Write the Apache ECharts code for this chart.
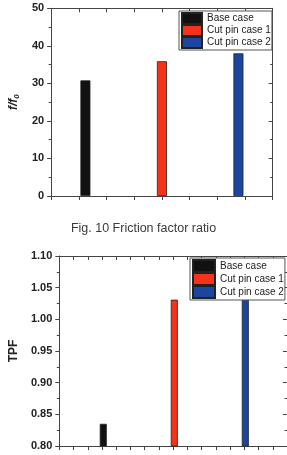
<!DOCTYPE html>
<html>
<head>
<meta charset="utf-8">
<script src="https://cdn.jsdelivr.net/npm/echarts@6/dist/echarts.min.js"></script>
<style>html,body{margin:0;padding:0;background:#fff}#c{width:287px;height:455px}</style>
</head>
<body>
<div id="c"></div>
<script>
const categories = ['Base case', 'Cut pin case 1', 'Cut pin case 2'];
const casePos = [1, 2, 3];
const frictionRatio = [30.8, 35.9, 38.0];
const tpfValues = [0.835, 1.031, 1.033];
const colors = ['#111111', '#f5321a', '#1c45a0'];
const figCaption = 'Fig. 10 Friction factor ratio';

const chart = echarts.init(document.getElementById('c'), null, {renderer: 'canvas'});
const axisCol = '#444';
const labelStyle = {color: '#222', fontFamily: 'Liberation Sans, Arial, sans-serif', fontWeight: 'bold', fontSize: 11};

function tickAxis(grid, pos, min, max, inside) {
  return {gridIndex: grid, type: 'value', position: pos, min: min, max: max, interval: 1,
    axisLine: {show: true, onZero: false, lineStyle: {color: axisCol, width: 1}},
    axisTick: {show: true, inside: inside, length: 4, lineStyle: {color: axisCol}},
    axisLabel: {show: false}, splitLine: {show: false}};
}
function barAxis(grid, min, max) {
  return {gridIndex: grid, type: 'value', position: 'bottom', min: min, max: max, show: false, splitLine: {show: false}};
}
function yAxisL(grid, min, max, interval, fmt, name, nameGap, rich) {
  return {gridIndex: grid, type: 'value', position: 'left', min: min, max: max, interval: interval,
    axisLine: {show: true, onZero: false, lineStyle: {color: axisCol, width: 1}},
    axisTick: {show: true, inside: false, length: 4, lineStyle: {color: axisCol}},
    minorTick: {show: true, splitNumber: 2, length: 2.5, lineStyle: {color: axisCol}},
    axisLabel: Object.assign({margin: 7, formatter: fmt}, labelStyle),
    splitLine: {show: false},
    name: name, nameLocation: 'middle', nameGap: nameGap,
    nameTextStyle: Object.assign({}, labelStyle, {fontSize: 12, rich: rich || {}})};
}
function yAxisR(grid, min, max, interval) {
  return {gridIndex: grid, type: 'value', position: 'right', min: min, max: max, interval: interval,
    axisLine: {show: true, onZero: false, lineStyle: {color: axisCol, width: 1}},
    axisTick: {show: true, inside: true, length: 4, lineStyle: {color: axisCol}},
    minorTick: {show: true, splitNumber: 2, length: 2.5, lineStyle: {color: axisCol}},
    axisLabel: {show: false}, splitLine: {show: false}};
}

const series = [];
categories.forEach((c, i) => {
  series.push({name: c, type: 'bar', xAxisIndex: 2, yAxisIndex: 0, barWidth: 10,
    itemStyle: {color: colors[i], borderColor: '#222', borderWidth: 0.8},
    data: [[casePos[i], frictionRatio[i]]]});
  series.push({name: c, type: 'bar', xAxisIndex: 5, yAxisIndex: 2, barWidth: 7,
    itemStyle: {color: colors[i], borderColor: '#222', borderWidth: 0.8},
    data: [[casePos[i], tpfValues[i]]]});
});

const legendBase = {orient: 'vertical', data: categories, icon: 'rect', itemGap: -1, z: 10,
  borderColor: '#555', borderWidth: 1, backgroundColor: '#fff',
  textStyle: {color: '#222', fontFamily: 'Liberation Sans, Arial, sans-serif', fontSize: 10, lineHeight: 11}};

chart.setOption({
  animation: false,
  title: {text: figCaption, left: 'center', top: 217,
    textStyle: {fontFamily: 'Liberation Sans Narrow, Liberation Sans, Arial, sans-serif', fontWeight: 'normal', fontSize: 12.5, color: '#3a3a3a'}},
  legend: [
    Object.assign({}, legendBase, {left: 179, top: 11, itemWidth: 20, itemHeight: 11, padding: [1, 1, 1, 2]}),
    Object.assign({}, legendBase, {left: 190, top: 258, itemWidth: 22, itemHeight: 12, padding: [1, 1, 1, 2],
      textStyle: Object.assign({}, legendBase.textStyle, {lineHeight: 12})})
  ],
  grid: [
    {left: 39.3, top: 8.3, width: 233.4, height: 187.7},
    {left: 49.3, top: 256, width: 238.7, height: 190}
  ],
  xAxis: [
    tickAxis(0, 'bottom', 0, 8, false),
    tickAxis(0, 'top', 0, 8, true),
    barAxis(0, 0.309, 3.691),
    tickAxis(1, 'bottom', 0, 16, false),
    tickAxis(1, 'top', 0, 16, true),
    barAxis(1, 0.184, 3.78)
  ],
  yAxis: [
    yAxisL(0, 0, 50, 10, v => String(v), '{a|f/f}{b|0}', 19,
      {a: {fontStyle: 'italic', fontWeight: 'bold', fontSize: 12, fontFamily: 'Liberation Sans, Arial'},
       b: {fontStyle: 'italic', fontWeight: 'bold', fontSize: 8, fontFamily: 'Liberation Sans, Arial', verticalAlign: 'bottom', padding: [6, 0, 0, 0]}}),
    yAxisR(0, 0, 50, 10),
    yAxisL(1, 0.8, 1.1, 0.05, v => v.toFixed(2), 'TPF', 31),
    yAxisR(1, 0.8, 1.1, 0.05)
  ],
  series: series
});
</script>
</body>
</html>
